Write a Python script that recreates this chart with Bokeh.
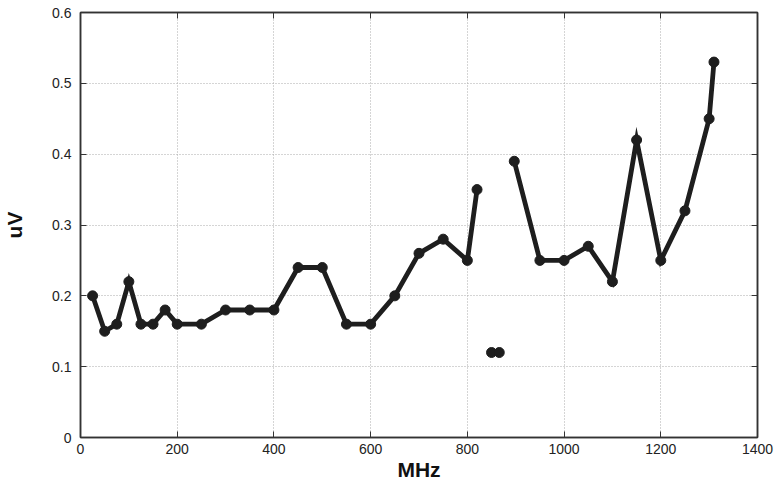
from bokeh.plotting import figure
from bokeh.models import LinearAxis, FixedTicker, Range1d
from bokeh.embed import file_html
from bokeh.resources import INLINE

# Data
freq_a = [25, 50, 75, 100, 125, 150, 175, 200, 250, 300, 350, 400, 450, 500,
          550, 600, 650, 700, 750, 800, 820]
uv_a = [0.20, 0.15, 0.16, 0.22, 0.16, 0.16, 0.18, 0.16, 0.16, 0.18, 0.18, 0.18,
        0.24, 0.24, 0.16, 0.16, 0.20, 0.26, 0.28, 0.25, 0.35]
freq_b = [850, 866]
uv_b = [0.12, 0.12]
freq_c = [897, 950, 1000, 1050, 1100, 1150, 1200, 1250, 1300, 1310]
uv_c = [0.39, 0.25, 0.25, 0.27, 0.22, 0.42, 0.25, 0.32, 0.45, 0.53]

xticks = [0, 200, 400, 600, 800, 1000, 1200, 1400]
yticks = [0, 0.1, 0.2, 0.3, 0.4, 0.5, 0.6]
ytick_labels = ["0", "0.1", "0.2", "0.3", "0.4", "0.5", "0.6"]

FONT = "Liberation Sans"
INK = "#1e1e1e"

p = figure(width=776, height=483, output_backend="svg", toolbar_location=None,
           x_range=Range1d(0, 1400), y_range=Range1d(0, 0.6),
           min_border_left=79, min_border_right=19, min_border_top=12,
           min_border_bottom=46)
p.background_fill_color = "white"
p.border_fill_color = "white"
p.outline_line_color = "#333333"
p.outline_line_width = 1.5

for ax in (p.xaxis[0], p.yaxis[0]):
    ax.major_tick_in = 6
    ax.major_tick_out = 0
    ax.minor_tick_line_color = None
    ax.axis_line_color = "#333333"
    ax.axis_line_width = 1.5
    ax.major_tick_line_color = "#333333"
    ax.major_label_text_font = FONT
    ax.major_label_text_font_size = "14px"
    ax.major_label_text_color = "#222222"
    ax.axis_label_text_font = FONT
    ax.axis_label_text_font_style = "bold"
    ax.axis_label_text_font_size = "21px"
    ax.axis_label_text_color = "#111111"

p.xaxis[0].ticker = FixedTicker(ticks=xticks)
p.yaxis[0].ticker = FixedTicker(ticks=yticks)
p.yaxis[0].major_label_overrides = {t: l for t, l in zip(yticks, ytick_labels)}
p.xaxis[0].axis_label = "MHz"
p.yaxis[0].axis_label = "uV"
p.xaxis[0].major_label_standoff = 6
p.xaxis[0].axis_label_standoff = 1
p.yaxis[0].major_label_standoff = 9
p.yaxis[0].axis_label_standoff = 23

blank_x = {t: "" for t in xticks}
blank_y = {t: "" for t in yticks}
top = LinearAxis(ticker=FixedTicker(ticks=xticks), major_label_overrides=blank_x,
                 major_label_text_font_size="1px",
                 major_label_standoff=0, major_tick_in=6, major_tick_out=0,
                 minor_tick_line_color=None, axis_line_color="#333333",
                 axis_line_width=1.5, major_tick_line_color="#333333")
right = LinearAxis(ticker=FixedTicker(ticks=yticks), major_label_overrides=blank_y,
                   major_label_text_font_size="1px",
                   major_label_standoff=0, major_tick_in=6, major_tick_out=0,
                   minor_tick_line_color=None, axis_line_color="#333333",
                   axis_line_width=1.5, major_tick_line_color="#333333")
p.add_layout(top, "above")
p.add_layout(right, "right")

p.xgrid.ticker = FixedTicker(ticks=xticks)
p.ygrid.ticker = FixedTicker(ticks=yticks)
p.grid.grid_line_color = "#aaaaaa"
p.grid.grid_line_dash = "1 2"
p.grid.grid_line_width = 1

for xs, ys, draw_line in ((freq_a, uv_a, True), (freq_b, uv_b, False), (freq_c, uv_c, True)):
    if draw_line:
        p.line(xs, ys, line_color=INK, line_width=4.8, line_join="miter")
    p.scatter(xs, ys, size=10, fill_color=INK, line_color=INK)

open("out.html", "w").write(file_html(p, INLINE))
